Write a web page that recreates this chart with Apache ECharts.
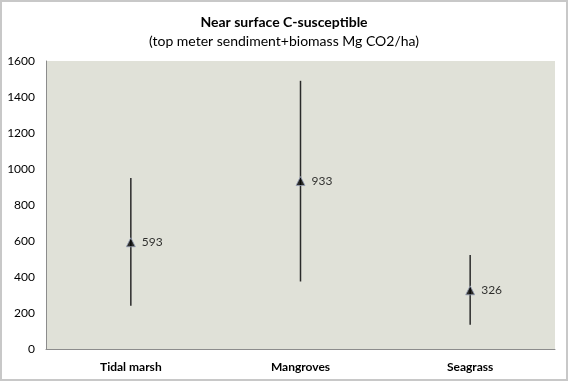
<!DOCTYPE html>
<html><head><meta charset="utf-8">
<script src="https://cdn.jsdelivr.net/npm/echarts@6/dist/echarts.min.js"></script>
<style>html,body{margin:0;padding:0;background:#fff}#c{width:568px;height:381px;box-sizing:border-box;border:2px solid #c8c8c8}</style>
</head><body><div id="c"></div>
<script>
const categories = ['Tidal marsh', 'Mangroves', 'Seagrass'];
const means = [593, 933, 326];
const lows = [240, 375, 135];
const highs = [950, 1490, 522];
const yTicks = [0, 200, 400, 600, 800, 1000, 1200, 1400, 1600];

const chart = echarts.init(document.getElementById('c'));
const font = 'Lato, "Open Sans", sans-serif';
chart.setOption({
  animation: false,
  backgroundColor: '#fff',
  title: {
    left: 'center', top: 8,
    text: 'Near surface C-susceptible',
    subtext: '(top meter sendiment+biomass Mg CO2/ha)',
    itemGap: 5,
    textStyle: {fontFamily: font, fontSize: 14, fontWeight: 'bold', color: '#000'},
    subtextStyle: {fontFamily: font, fontSize: 14, color: '#000'}
  },
  grid: {left: 44, right: 11, top: 59, bottom: 30, show: true, backgroundColor: '#e0e1d8', borderWidth: 0},
  xAxis: {
    type: 'category', data: categories,
    axisLine: {lineStyle: {color: '#8c8c8c', width: 1}},
    axisTick: {show: false},
    axisLabel: {fontFamily: font, fontSize: 12, fontWeight: 'bold', color: '#000', margin: 12}
  },
  yAxis: {
    type: 'value', min: yTicks[0], max: yTicks[yTicks.length-1], interval: 200,
    axisLine: {show: true, lineStyle: {color: '#8c8c8c', width: 1}},
    axisTick: {show: false},
    splitLine: {show: false},
    axisLabel: {fontFamily: font, fontSize: 12, color: '#000', margin: 11, formatter: v => String(v)}
  },
  series: [
    {
      type: 'custom',
      data: categories.map((c, i) => [i, lows[i], highs[i]]),
      renderItem: function (params, api) {
        const lo = api.coord([api.value(0), api.value(1)]);
        const hi = api.coord([api.value(0), api.value(2)]);
        return {type: 'line', shape: {x1: lo[0], y1: lo[1], x2: hi[0], y2: hi[1]},
          style: {stroke: '#2a2a2a', lineWidth: 1.5}};
      },
      z: 1
    },
    {
      type: 'scatter',
      data: means,
      symbol: 'triangle', symbolSize: 9,
      itemStyle: {color: '#000', borderColor: '#9aa3b8', borderWidth: 1},
      label: {show: true, position: 'right', distance: 6, fontFamily: font, fontSize: 12, color: '#000'},
      z: 3
    }
  ]
});
</script></body></html>
